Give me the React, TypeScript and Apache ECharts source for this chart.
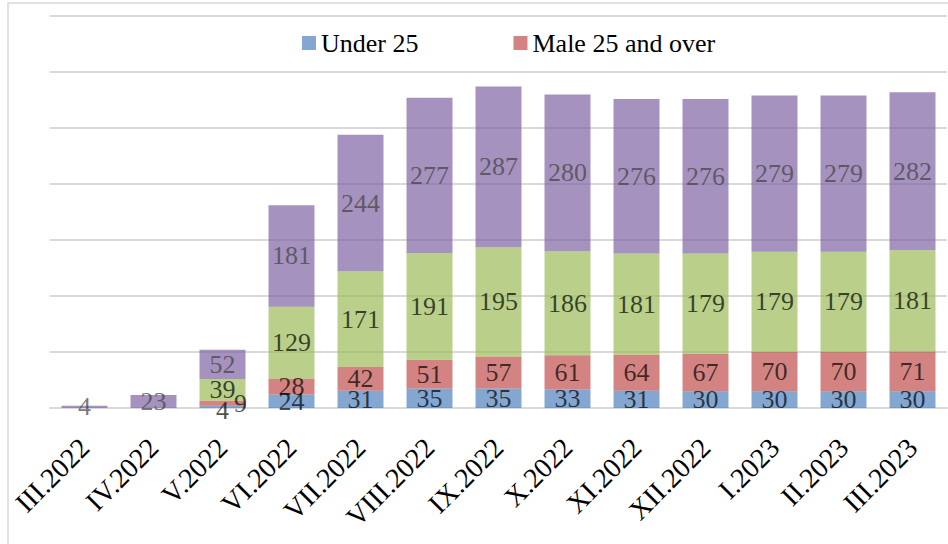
import React, { useEffect, useRef } from "react";
import * as echarts from "echarts";

const categories = [
  "III.2022", "IV.2022", "V.2022", "VI.2022", "VII.2022", "VIII.2022", "IX.2022",
  "X.2022", "XI.2022", "XII.2022", "I.2023", "II.2023", "III.2023",
];
const under25: (number | null)[] = [null, null, 4, 24, 31, 35, 35, 33, 31, 30, 30, 30, 30];
const male25: (number | null)[] = [null, null, 9, 28, 42, 51, 57, 61, 64, 67, 70, 70, 71];
const female25: (number | null)[] = [null, null, 39, 129, 171, 191, 195, 186, 181, 179, 179, 179, 181];
const other: (number | null)[] = [4, 23, 52, 181, 244, 277, 287, 280, 276, 276, 279, 279, 282];
const yTicks = [0, 100, 200, 300, 400, 500, 600, 700];

const FONT = "Liberation Serif";

// label nudges for crowded small segments (series name -> category index -> offset)
const labelNudges: Record<string, Record<number, [number, number]>> = {
  "Under 25": { 2: [0, 4] },
  "Male 25 and over": { 2: [18, 0] },
};

export default function App() {
  const ref = useRef<HTMLDivElement>(null);
  useEffect(() => {
    if (!ref.current) return;
    const chart = echarts.init(ref.current, undefined, { renderer: "svg" });
    const mk = (name: string, values: (number | null)[], color: string, labelColor: string) => ({
      name,
      type: "bar",
      stack: "total",
      data: values.map((v, i) => {
        const nudge = labelNudges[name] && labelNudges[name][i];
        return nudge ? { value: v, label: { offset: nudge } } : v;
      }),
      barWidth: "66.6%",
      itemStyle: { color, opacity: 0.7 },
      label: {
        show: true,
        position: "inside",
        color: labelColor,
        fontFamily: FONT,
        fontSize: 26,
        formatter: (p: any) => (p.value == null ? "" : String(p.value)),
      },
    });
    chart.setOption({
      animation: false,
      textStyle: { fontFamily: FONT },
      graphic: [
        {
          type: "rect",
          shape: { x: 8, y: 3, width: 1000, height: 600 },
          style: { fill: "none", stroke: "#d9d9d9", lineWidth: 1.5 },
          silent: true,
        },
      ],
      legend: {
        data: ["Under 25", "Male 25 and over"],
        left: 302,
        top: 30,
        padding: 0,
        itemWidth: 14,
        itemHeight: 14,
        itemGap: 95,
        icon: "rect",
        textStyle: { fontFamily: FONT, fontSize: 26, color: "#000" },
      },
      grid: { left: 50, right: 1, top: 16, bottom: 136, containLabel: false },
      xAxis: {
        type: "category",
        data: categories,
        axisLine: { show: true, lineStyle: { color: "#d9d9d9", width: 2 } },
        axisTick: { show: false },
        axisLabel: {
          rotate: 45,
          margin: 35,
          interval: 0,
          fontFamily: FONT,
          fontSize: 28,
          color: "#000",
        },
      },
      yAxis: {
        type: "value",
        min: yTicks[0],
        max: yTicks[yTicks.length - 1],
        interval: 100,
        axisLabel: { show: false },
        axisLine: { show: false },
        axisTick: { show: false },
        splitLine: { show: true, lineStyle: { color: "#d9d9d9", width: 2 } },
      },
      series: [
        mk("Under 25", under25, "#4F81BD", "#000"),
        mk("Male 25 and over", male25, "#C0504D", "#000"),
        mk("Female 25 and over", female25, "#9BBB59", "#000"),
        mk("Other", other, "#8064A2", "#404040"),
      ],
    });
    return () => chart.dispose();
  }, []);
  return (
    <div
      ref={ref}
      style={{ position: "fixed", left: 0, top: 0, width: 948, height: 544, background: "#fff" }}
    />
  );
}
